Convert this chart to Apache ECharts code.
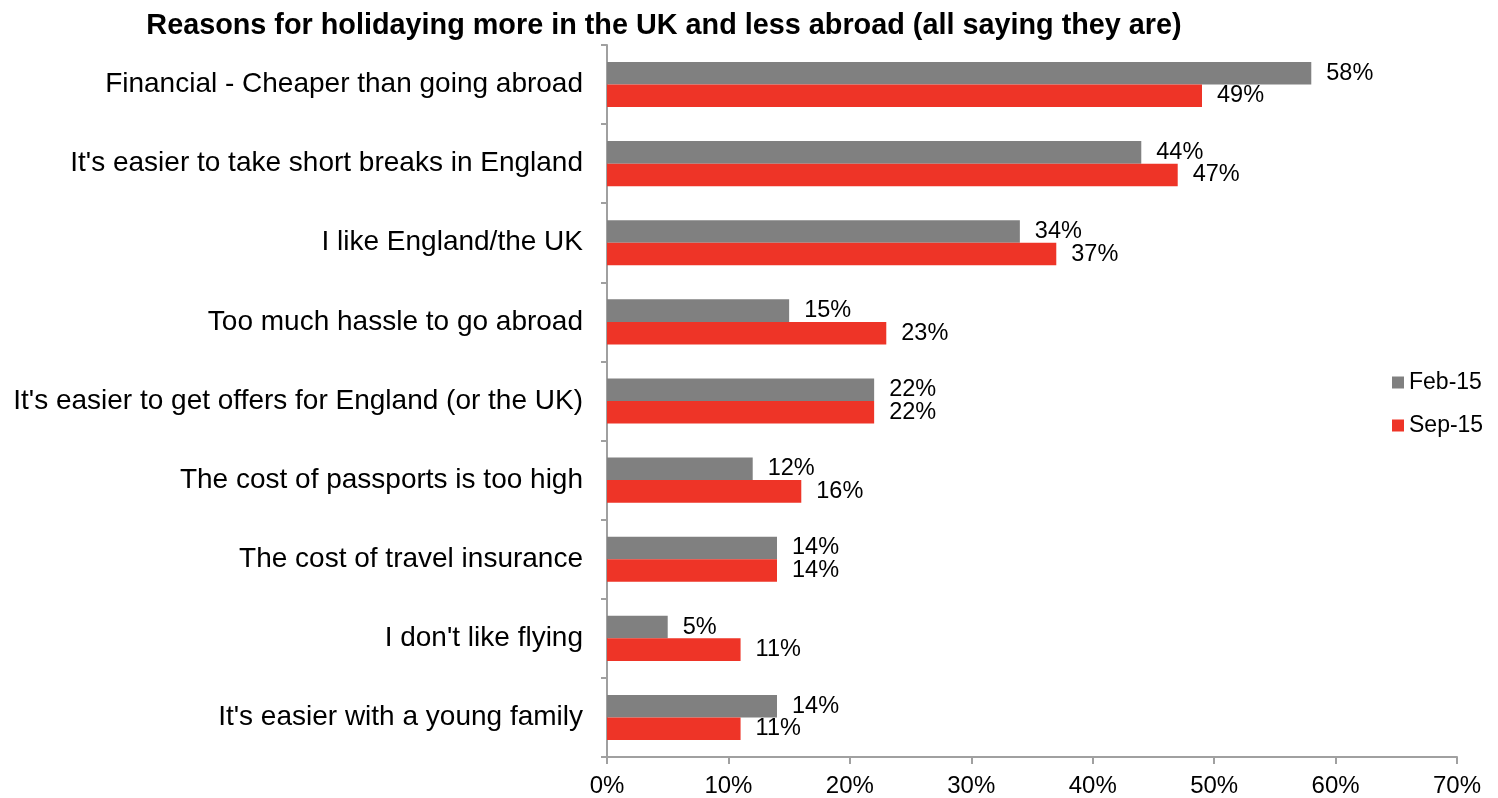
<!DOCTYPE html>
<html>
<head>
<meta charset="utf-8">
<script src="https://cdn.jsdelivr.net/npm/echarts@6/dist/echarts.min.js"></script>
<style>
  html, body { margin: 0; padding: 0; background: #fff; }
  #chart { width: 1498px; height: 798px; }
</style>
</head>
<body>
<div id="chart"></div>
<script>
// Survey reasons, listed top to bottom
const categories = [
  "Financial - Cheaper than going abroad",
  "It's easier to take short breaks in England",
  "I like England/the UK",
  "Too much hassle to go abroad",
  "It's easier to get offers for England (or the UK)",
  "The cost of passports is too high",
  "The cost of travel insurance",
  "I don't like flying",
  "It's easier with a young family"
];
const seriesNames = ["Feb-15", "Sep-15"];
const feb15 = [58, 44, 34, 15, 22, 12, 14, 5, 14];
const sep15 = [49, 47, 37, 23, 22, 16, 14, 11, 11];
const axisTicks = [0, 10, 20, 30, 40, 50, 60, 70];

const FONT = "'Liberation Sans', Arial, sans-serif";
const AXIS_GREY = '#a0a0a0';

const chart = echarts.init(document.getElementById('chart'), null, { renderer: 'canvas' });

const barLabel = {
  show: true,
  position: 'right',
  distance: 15,
  formatter: p => p.value + '%',
  color: '#000',
  fontFamily: FONT,
  fontSize: 23.5
};

chart.setOption({
  animation: false,
  backgroundColor: '#fff',
  title: {
    text: 'Reasons for holidaying more in the UK and less abroad (all saying they are)',
    left: 659,
    textAlign: 'center',
    top: 7,
    textStyle: { fontFamily: FONT, fontSize: 28.8, fontWeight: 'bold', color: '#000' }
  },
  legend: {
    data: seriesNames,
    orient: 'vertical',
    left: 1387,
    top: 366,
    itemWidth: 12,
    itemHeight: 12,
    itemGap: 20,
    icon: 'rect',
    textStyle: { fontFamily: FONT, fontSize: 23, color: '#000' }
  },
  grid: { left: 607, right: 41, top: 45, bottom: 39, containLabel: false },
  xAxis: {
    type: 'value',
    min: axisTicks[0],
    max: axisTicks[axisTicks.length - 1],
    interval: axisTicks[1] - axisTicks[0],
    axisLine: { show: true, lineStyle: { color: AXIS_GREY, width: 2 } },
    axisTick: { show: true, length: 7, lineStyle: { color: AXIS_GREY, width: 2 } },
    splitLine: { show: false },
    axisLabel: {
      formatter: '{value}%',
      color: '#000',
      fontFamily: FONT,
      fontSize: 24,
      margin: 17
    }
  },
  yAxis: {
    type: 'category',
    data: categories,
    inverse: true,
    axisLine: { show: true, lineStyle: { color: AXIS_GREY, width: 2 } },
    axisTick: { show: true, length: 6, lineStyle: { color: AXIS_GREY, width: 2 } },
    axisLabel: {
      color: '#000',
      fontFamily: FONT,
      fontSize: 28,
      margin: 24
    }
  },
  series: [
    {
      name: seriesNames[0],
      type: 'bar',
      data: feb15,
      barGap: '0%',
      barCategoryGap: '43%',
      itemStyle: { color: '#808080' },
      label: barLabel
    },
    {
      name: seriesNames[1],
      type: 'bar',
      data: sep15,
      itemStyle: { color: '#ee3427' },
      label: barLabel
    }
  ]
});
</script>
</body>
</html>
